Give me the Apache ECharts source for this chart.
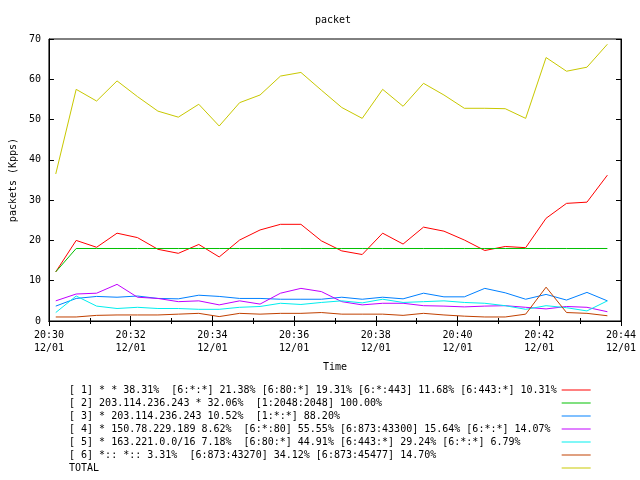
<!DOCTYPE html>
<html><head><meta charset="utf-8">
<script src="https://cdn.jsdelivr.net/npm/echarts@6/dist/echarts.min.js"></script>
<style>html,body{margin:0;padding:0;background:#fff}#c{width:640px;height:480px}</style>
</head><body><div id="c"></div>
<script>
const times = ['20:30:10','20:30:40','20:31:10','20:31:40','20:32:10','20:32:40','20:33:10','20:33:40','20:34:10','20:34:40','20:35:10','20:35:40','20:36:10','20:36:40','20:37:10','20:37:40','20:38:10','20:38:40','20:39:10','20:39:40','20:40:10','20:40:40','20:41:10','20:41:40','20:42:10','20:42:40','20:43:10','20:43:40'];
const xTickLabels = ['20:30','20:32','20:34','20:36','20:38','20:40','20:42','20:44'];
const dateLabel = '12/01';
const names = [
  '[ 1] * * 38.31%  [6:*:*] 21.38% [6:80:*] 19.31% [6:*:443] 11.68% [6:443:*] 10.31%',
  '[ 2] 203.114.236.243 * 32.06%  [1:2048:2048] 100.00%',
  '[ 3] * 203.114.236.243 10.52%  [1:*:*] 88.20%',
  '[ 4] * 150.78.229.189 8.62%  [6:*:80] 55.55% [6:873:43300] 15.64% [6:*:*] 14.07%',
  '[ 5] * 163.221.0.0/16 7.18%  [6:80:*] 44.91% [6:443:*] 29.24% [6:*:*] 6.79%',
  '[ 6] *:: *:: 3.31%  [6:873:43270] 34.12% [6:873:45477] 14.70%',
  'TOTAL'
];
const s1 = [12.2,20.0,18.3,21.8,20.7,17.8,16.8,19.0,15.9,20.1,22.6,24.0,24.0,19.9,17.4,16.5,21.8,19.1,23.3,22.3,20.1,17.5,18.5,18.2,25.5,29.2,29.5,36.2];
const s2 = [12.2,18,18,18,18,18,18,18,18,18,18,18,18,18,18,18,18,18,18,18,18,18,18,18,18,18,18,18];
const s3 = [3.7,5.6,6.1,5.9,6.2,5.6,5.5,6.4,6.1,5.6,5.6,5.4,5.4,5.4,5.9,5.4,5.9,5.5,6.9,6.0,6.0,8.1,7.0,5.4,6.6,5.2,7.1,5.0];
const s4 = [5.0,6.7,6.9,9.1,5.9,5.6,4.8,5.0,4.0,5.0,4.2,6.9,8.1,7.3,4.8,4.0,4.4,4.4,3.8,3.7,3.5,3.7,3.8,3.4,3.0,3.6,3.4,2.3];
const s5 = [2.1,6.2,3.7,3.1,3.4,3.1,3.1,2.9,2.9,3.4,3.6,4.4,4.1,4.6,5.0,4.5,5.4,4.6,4.8,5.0,4.6,4.4,3.8,2.9,3.8,3.3,2.5,5.0];
const s6 = [1.0,1.0,1.4,1.5,1.5,1.5,1.7,1.9,1.1,1.9,1.7,1.9,1.9,2.1,1.7,1.7,1.7,1.4,1.9,1.5,1.2,1.0,1.0,1.7,8.4,2.1,1.9,1.3];
const total = [36.5,57.5,54.6,59.6,55.7,52.1,50.6,53.8,48.4,54.2,56.1,60.8,61.7,57.3,53.0,50.3,57.5,53.3,59.0,56.1,52.8,52.8,52.7,50.3,65.4,62.0,63.0,68.7];
const colors = ['#ff0000','#00c000','#0080ff','#c000ff','#00eeee','#c04000','#c8c800'];

const FONT = 'DejaVu Sans Mono';
function toMin(t){ const p=t.split(':').map(Number); return (p[0]-20)*60 + p[1] + p[2]/60; }
const xs = times.map(toMin);
const allSeries = [s1,s2,s3,s4,s5,s6,total];

const chart = echarts.init(document.getElementById('c'), null, {renderer:'canvas'});
const tickStyle = {show:true, inside:true, length:5, lineStyle:{color:'#000', width:1}};
chart.setOption({
  animation:false,
  backgroundColor:'#fff',
  textStyle:{fontFamily:FONT, fontSize:10, color:'#000'},
  title:{text:'packet', left:315, top:15, padding:0, textStyle:{fontFamily:FONT, fontSize:10, fontWeight:'normal', color:'#000', lineHeight:10}},
  grid:{left:46, right:19, top:39, bottom:159, show:true, borderColor:'#000', borderWidth:1, backgroundColor:'transparent'},
  legend:{
    orient:'vertical', left:69, top:385, height:95, padding:0, align:'right',
    icon:'rect', itemWidth:29, itemHeight:1, itemGap:3,
    textStyle:{fontFamily:FONT, fontSize:10, color:'#000', lineHeight:10},
    formatter: n => n.padEnd(81, ' '),
    selectedMode:false
  },
  xAxis:[{
    type:'value', min:30, max:44, interval:2, position:'bottom',
    name:'Time', nameLocation:'middle', nameGap:41,
    nameTextStyle:{fontFamily:FONT, fontSize:10, color:'#000'},
    axisLine:{show:true, lineStyle:{color:'#000'}},
    axisTick:tickStyle,
    minorTick:{show:true, splitNumber:2, length:3, lineStyle:{color:'#000'}},
    splitLine:{show:false},
    axisLabel:{margin:8, fontFamily:FONT, fontSize:10, color:'#000', lineHeight:13,
      formatter: v => xTickLabels[Math.round((v-30)/2)] + '\n' + dateLabel}
  },{
    type:'value', min:30, max:44, interval:2, position:'top',
    axisLine:{show:true, lineStyle:{color:'#000'}},
    axisTick:tickStyle,
    minorTick:{show:true, splitNumber:2, length:3, lineStyle:{color:'#000'}},
    splitLine:{show:false}, axisLabel:{show:false}
  }],
  yAxis:[{
    type:'value', min:0, max:70, interval:10, position:'left',
    name:'packets (Kpps)', nameLocation:'middle', nameGap:30, nameRotate:90,
    nameTextStyle:{fontFamily:FONT, fontSize:10, color:'#000'},
    axisLine:{show:true, lineStyle:{color:'#000'}},
    axisTick:tickStyle, splitLine:{show:false},
    axisLabel:{margin:8, fontFamily:FONT, fontSize:10, color:'#000'}
  },{
    type:'value', min:0, max:70, interval:10, position:'right',
    axisLine:{show:true, lineStyle:{color:'#000'}},
    axisTick:tickStyle, splitLine:{show:false}, axisLabel:{show:false}
  }],
  series: allSeries.map((arr,k)=>({
    name:names[k], type:'line', xAxisIndex:0, yAxisIndex:0,
    data: arr.map((v,i)=>[xs[i], v]),
    symbol:'none', showSymbol:false,
    lineStyle:{color:colors[k], width:1}, itemStyle:{color:colors[k]},
    emphasis:{disabled:true}
  }))
});
</script></body></html>
